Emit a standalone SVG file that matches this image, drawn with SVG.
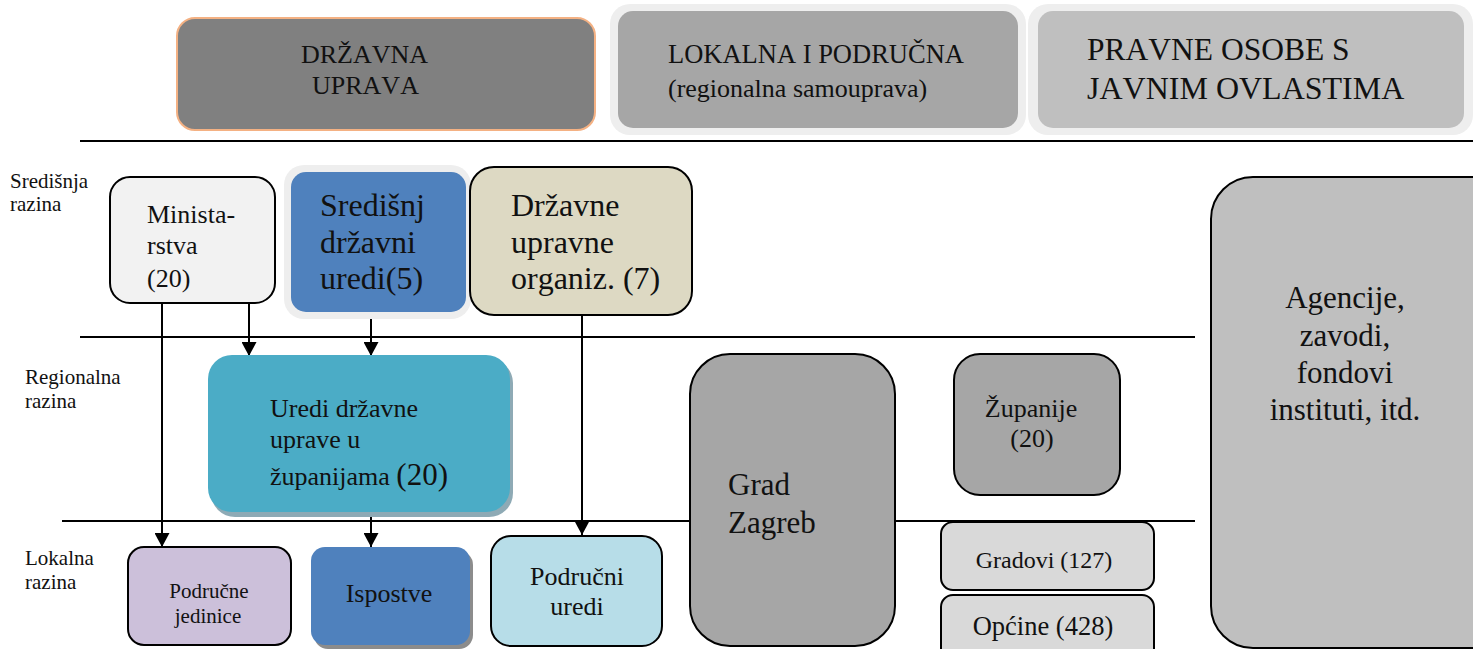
<svg xmlns="http://www.w3.org/2000/svg" width="1473" height="649" viewBox="0 0 1473 649">
<style>
text{font-family:'Liberation Serif','DejaVu Serif',serif;fill:#111;font-kerning:none}
.lvl{font-size:21px}
.box{stroke:#000;stroke-width:2}
.ln{stroke:#000;stroke-width:2;fill:none}
.c{text-anchor:middle}
</style>
<defs>
<marker id="ah" markerWidth="14" markerHeight="15" refX="14" refY="7.5" orient="auto" markerUnits="userSpaceOnUse" viewBox="0 0 14 15">
<path d="M0,0 L14,7.5 L0,15 Z" fill="#000"/>
</marker>
</defs>
<rect width="1473" height="649" fill="#fff"/>

<g id="lines">
<line class="ln" x1="80" y1="141" x2="1473" y2="141"/>
<line class="ln" x1="80" y1="337" x2="1195" y2="337"/>
<line class="ln" x1="62" y1="521" x2="1195" y2="521"/>
</g>

<g id="levels">
<text class="lvl" x="10" y="188">Središnja</text>
<text class="lvl" x="10" y="211">razina</text>
<text class="lvl" x="25" y="384">Regionalna</text>
<text class="lvl" x="25" y="408">razina</text>
<text class="lvl" x="25" y="565">Lokalna</text>
<text class="lvl" x="25" y="589">razina</text>
</g>

<g id="h-drzavna">
<rect x="177" y="18" width="418" height="112" rx="18" fill="#808080" stroke="#f4b183" stroke-width="2"/>
<text x="301" y="63" font-size="26">DRŽAVNA</text>
<text x="312" y="94" font-size="26">UPRAVA</text>
</g>
<g id="h-lokalna">
<rect x="610" y="4" width="416" height="131" rx="20" fill="#eeeeee"/>
<rect x="618" y="11" width="400" height="117" rx="15" fill="#a6a6a6"/>
<text x="668" y="63" font-size="26.5">LOKALNA I PODRUČNA</text>
<text x="668" y="97" font-size="26">(regionalna samouprava)</text>
</g>
<g id="h-pravne">
<rect x="1028" y="4" width="445" height="131" rx="20" fill="#eeeeee"/>
<rect x="1038" y="11" width="426" height="117" rx="15" fill="#bfbfbf"/>
<text x="1087" y="60" font-size="31.5">PRAVNE OSOBE S</text>
<text x="1087" y="99" font-size="32">JAVNIM OVLASTIMA</text>
</g>

<g id="connectors">
<line class="ln" x1="162" y1="303" x2="162" y2="547" marker-end="url(#ah)"/>
<line class="ln" x1="249" y1="303" x2="249" y2="356" marker-end="url(#ah)"/>
<line class="ln" x1="371" y1="316" x2="371" y2="356" marker-end="url(#ah)"/>
<line class="ln" x1="371" y1="514" x2="371" y2="547" marker-end="url(#ah)"/>
<line class="ln" x1="582" y1="315" x2="582" y2="535" marker-end="url(#ah)"/>
</g>

<g id="ministarstva">
<rect class="box" x="110" y="177" width="165" height="126" rx="20" fill="#f2f2f2"/>
<text x="147" y="223" font-size="26">Minista-</text>
<text x="147" y="254" font-size="26">rstva</text>
<text x="147" y="287" font-size="26">(20)</text>
</g>
<g id="sredisnji">
<rect x="284" y="165" width="187" height="154" rx="20" fill="#eeeeee"/>
<rect x="291" y="172" width="175" height="140" rx="15" fill="#4f81bd"/>
<text x="320" y="216" font-size="32">Središnj</text>
<text x="320" y="253" font-size="32">državni</text>
<text x="320" y="289" font-size="32">uredi(5)</text>
</g>
<g id="drzavne-org">
<rect class="box" x="470" y="167" width="222" height="148" rx="24" fill="#ddd9c3"/>
<text x="511" y="216" font-size="32">Državne</text>
<text x="511" y="253" font-size="32">upravne</text>
<text x="511" y="289" font-size="32">organiz. (7)</text>
</g>

<g id="uredi-zupanije">
<rect x="211" y="359" width="302" height="158" rx="24" fill="#8eaab5"/>
<rect x="208" y="355" width="302" height="157" rx="24" fill="#4bacc6"/>
<text x="270" y="417" font-size="26">Uredi državne</text>
<text x="270" y="448" font-size="26">uprave u</text>
<text x="270" y="485" font-size="26">županijama <tspan font-size="31">(20)</tspan></text>
</g>

<g id="podrucne-jedinice">
<rect class="box" x="128" y="547" width="163" height="98" rx="16" fill="#ccc0da"/>
<text class="c" x="209" y="598" font-size="21">Područne</text>
<text class="c" x="208" y="623" font-size="21">jedinice</text>
</g>
<g id="ispostve">
<rect x="314" y="551" width="159" height="98" rx="14" fill="#8c8c8c"/>
<rect x="311" y="547" width="159" height="98" rx="14" fill="#4f81bd"/>
<text class="c" x="389" y="602" font-size="26">Ispostve</text>
</g>
<g id="podrucni-uredi">
<rect class="box" x="491" y="536" width="171" height="110" rx="20" fill="#b7dde8"/>
<text class="c" x="577" y="585" font-size="26">Područni</text>
<text class="c" x="577" y="615" font-size="26">uredi</text>
</g>

<g id="grad-zagreb">
<rect class="box" x="690" y="354" width="205" height="292" rx="40" fill="#a6a6a6"/>
<text x="728" y="495" font-size="31">Grad</text>
<text x="728" y="533" font-size="31">Zagreb</text>
</g>
<g id="zupanije">
<rect class="box" x="954" y="354" width="166" height="141" rx="26" fill="#a6a6a6"/>
<text class="c" x="1031" y="417" font-size="26">Županije</text>
<text class="c" x="1032" y="447" font-size="26">(20)</text>
</g>
<g id="gradovi">
<rect class="box" x="941" y="522" width="213" height="68" rx="12" fill="#d9d9d9"/>
<text class="c" x="1044" y="568" font-size="24">Gradovi (127)</text>
</g>
<g id="opcine">
<rect class="box" x="941" y="595" width="213" height="72" rx="12" fill="#d9d9d9"/>
<text class="c" x="1043" y="635" font-size="26.5">Općine (428)</text>
</g>
<g id="agencije">
<rect class="box" x="1211" y="177" width="320" height="471" rx="42" fill="#bfbfbf"/>
<text class="c" x="1345" y="308" font-size="31">Agencije,</text>
<text class="c" x="1345" y="346" font-size="31">zavodi,</text>
<text class="c" x="1345" y="383" font-size="31">fondovi</text>
<text class="c" x="1345" y="420" font-size="31">instituti, itd.</text>
</g>
</svg>
